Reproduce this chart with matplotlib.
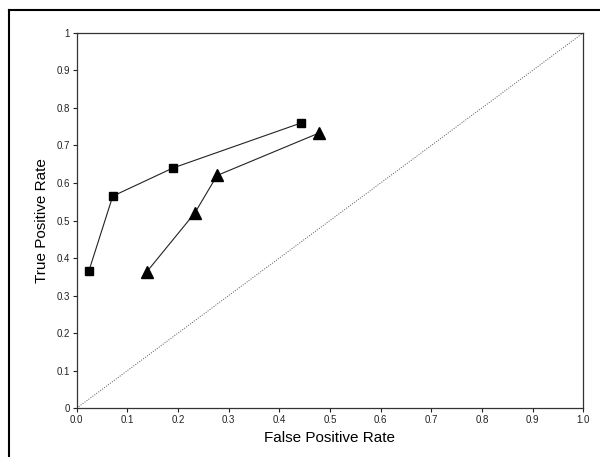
import matplotlib
matplotlib.use("Agg")
import matplotlib.pyplot as plt
from matplotlib.lines import Line2D

# data
sq_fpr = [0.024, 0.071, 0.19, 0.443]
sq_tpr = [0.366, 0.565, 0.64, 0.76]

tri_fpr = [0.138, 0.233, 0.277, 0.478]
tri_tpr = [0.363, 0.52, 0.62, 0.733]

x_ticks = [0.0, 0.1, 0.2, 0.3, 0.4, 0.5, 0.6, 0.7, 0.8, 0.9, 1.0]
x_labels = ["0.0", "0.1", "0.2", "0.3", "0.4", "0.5", "0.6", "0.7", "0.8", "0.9", "1.0"]
y_ticks = [0, 0.1, 0.2, 0.3, 0.4, 0.5, 0.6, 0.7, 0.8, 0.9, 1]
y_labels = ["0", "0.1", "0.2", "0.3", "0.4", "0.5", "0.6", "0.7", "0.8", "0.9", "1"]

plt.rcParams["font.family"] = ["Liberation Sans", "DejaVu Sans"]

fig = plt.figure(figsize=(6, 4.57), dpi=100)
ax = fig.add_axes([0.128, 0.107, 0.844, 0.821])

# chance diagonal
ax.plot([0, 1], [0, 1], color="#555555", linestyle=(0, (1, 1.5)), linewidth=0.7)

ax.plot(sq_fpr, sq_tpr, color="#222222", linewidth=0.8,
        marker="s", markersize=6, markerfacecolor="black", markeredgecolor="black")
ax.plot(tri_fpr, tri_tpr, color="#222222", linewidth=0.8,
        marker="^", markersize=8, markerfacecolor="black", markeredgecolor="black")

ax.set_xlim(0, 1)
ax.set_ylim(0, 1)
ax.set_xticks(x_ticks)
ax.set_xticklabels(x_labels)
ax.set_yticks(y_ticks)
ax.set_yticklabels(y_labels)
ax.tick_params(direction="out", length=3, width=0.8, labelsize=7, pad=2, colors="#222222")

for s in ax.spines.values():
    s.set_color("#333333")
    s.set_linewidth(0.9)

ax.set_xlabel("False Positive Rate", fontsize=11, labelpad=4)
ax.set_ylabel("True Positive Rate", fontsize=11, labelpad=5)

# outer frame (top and left only)
fig.add_artist(Line2D([0.015, 1.0], [0.978, 0.978], color="black", linewidth=1.5))
fig.add_artist(Line2D([0.015, 0.015], [0.0, 0.978], color="black", linewidth=1.5))

fig.savefig("out.png", dpi=100)
